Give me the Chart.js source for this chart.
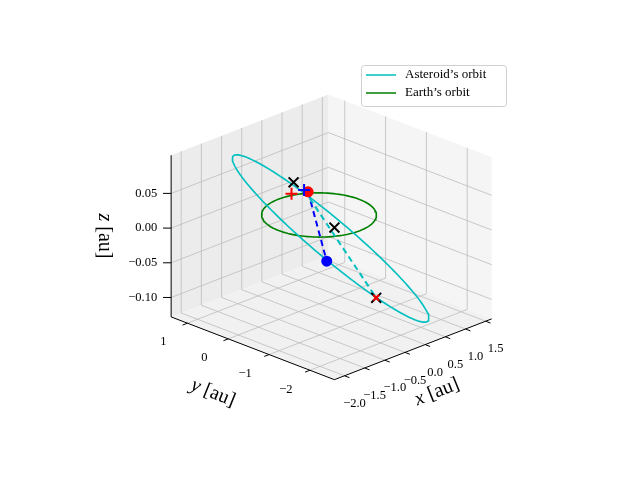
<!DOCTYPE html>
<html>
<head>
<meta charset="utf-8">
<script src="https://cdn.jsdelivr.net/npm/chart.js@4.4.0/dist/chart.umd.min.js"></script>
<style>body{margin:0;background:#fff}</style>
</head>
<body>
<canvas id="c" width="640" height="480"></canvas>
<script>
// Пределы осей и подписи делений
const xLim = [-2.25, 1.65];
const yLim = [-2.6, 1.4];
const zLim = [-0.128, 0.105];
const xTicks = [-2.0, -1.5, -1.0, -0.5, 0.0, 0.5, 1.0, 1.5];
const yTicks = [-2, -1, 0, 1];
const zTicks = [-0.10, -0.05, 0.00, 0.05];

// Орбиты: центр и полуоси (а.е.)
const earthRadius = 1.0;
const asteroidCenter = [-0.39, -0.67, -0.01];
const asteroidU = [0.9, -1.5, -0.105];
const asteroidV = [1.225, 0.91, -0.027];
const orbitAngles = Array.from({length: 121}, (_, i) => i * 3);

// Точки (x, y, z)
const earthPos = [[0.61, 0.87, 0]];
const earthPlus = [[0.34, 1.01, 0]];
const asteroidPos = [[-1.57, -1.74, 0.008]];
const asteroidPlus = [[0.553, 0.912, 0.003]];
const blackCross = [[0.29, 0.91, 0.02], [0.456, 0.073, -0.03], [-0.93, -2.32, -0.046]];
const redCross = [[-0.93, -2.32, -0.046]];

// Простая проекция 3D -> экран
function proj(p) {
    const [x, y, z] = p;
    return {x: 319 + 41.5 * x - 42 * y, y: 214 - 16.2 * x - 16.3 * y - 721 * z};
}
const rad = Math.PI / 180;
const earthOrbit = orbitAngles.map(a => proj([earthRadius * Math.cos(a * rad), earthRadius * Math.sin(a * rad), 0]));
const asteroidOrbit = orbitAngles.map(a => proj([0, 1, 2].map(k =>
    asteroidCenter[k] + asteroidU[k] * Math.cos(a * rad) + asteroidV[k] * Math.sin(a * rad))));

const serif = '"Liberation Serif", "DejaVu Serif", serif';

// Оси, панели и сетка
const boxPlugin = {
    id: 'box',
    beforeDatasetsDraw(chart) {
        const ctx = chart.ctx;
        const sx = chart.scales.x, sy = chart.scales.y;
        const P = p => { const q = proj(p); return [sx.getPixelForValue(q.x), sy.getPixelForValue(q.y)]; };
        const poly = (pts, fill) => {
            ctx.beginPath();
            pts.forEach((p, i) => { const q = P(p); i ? ctx.lineTo(q[0], q[1]) : ctx.moveTo(q[0], q[1]); });
            ctx.closePath(); ctx.fillStyle = fill; ctx.fill();
        };
        const line = (a, b, col, w) => {
            const p = P(a), q = P(b);
            ctx.beginPath(); ctx.moveTo(p[0], p[1]); ctx.lineTo(q[0], q[1]);
            ctx.strokeStyle = col; ctx.lineWidth = w; ctx.stroke();
        };
        const [x0, x1] = xLim, [y0, y1] = yLim, [z0, z1] = zLim;
        ctx.save();
        poly([[x0, y1, z0], [x1, y1, z0], [x1, y1, z1], [x0, y1, z1]], '#ececec');
        poly([[x1, y0, z0], [x1, y1, z0], [x1, y1, z1], [x1, y0, z1]], '#f5f5f5');
        poly([[x0, y0, z0], [x1, y0, z0], [x1, y1, z0], [x0, y1, z0]], '#f1f1f1');
        const g = '#bcbcbc';
        xTicks.forEach(t => { line([t, y0, z0], [t, y1, z0], g, 0.8); line([t, y1, z0], [t, y1, z1], g, 0.8); });
        yTicks.forEach(t => { line([x0, t, z0], [x1, t, z0], g, 0.8); line([x1, t, z0], [x1, t, z1], g, 0.8); });
        zTicks.forEach(t => { line([x0, y1, t], [x1, y1, t], g, 0.8); line([x1, y1, t], [x1, y0, t], g, 0.8); });
        line([x0, y0, z0], [x1, y0, z0], '#000', 1);
        line([x0, y0, z0], [x0, y1, z0], '#000', 1);
        line([x0, y1, z0], [x0, y1, z1], '#000', 1);
        ctx.fillStyle = '#000';
        ctx.font = '12.5px ' + serif;
        ctx.textBaseline = 'middle';
        ctx.textAlign = 'center';
        const fmt = v => v.toFixed(1).replace('-', '\u2212');
        xTicks.forEach(t => {
            line([t, y0, z0], [t, y0 - 0.12, z0], '#000', 1);
            const p = P([t, y0, z0]);
            ctx.fillText(fmt(Math.abs(t) < 1e-9 ? 0 : t), p[0] + 10, p[1] + 28);
        });
        yTicks.forEach(t => {
            line([x0, t, z0], [x0 - 0.12, t, z0], '#000', 1);
            const p = P([x0, t, z0]);
            ctx.fillText(String(t).replace('-', '\u2212'), p[0] - 24, p[1] + 19);
        });
        ctx.textAlign = 'right';
        zTicks.forEach(t => {
            line([x0, y1, t], [x0 - 0.1, y1 + 0.1, t], '#000', 1);
            const p = P([x0, y1, t]);
            ctx.fillText((Math.abs(t) < 1e-9 ? 0 : t).toFixed(2).replace('-', '\u2212'), p[0] - 14, p[1]);
        });
        // Подписи осей
        const label = (txt, x, y, ang) => {
            ctx.save(); ctx.translate(x, y); ctx.rotate(ang * rad);
            ctx.textAlign = 'left';
            ctx.font = 'italic 20px ' + serif;
            const w1 = ctx.measureText(txt).width;
            ctx.font = '20px ' + serif;
            const w2 = ctx.measureText(' [au]').width;
            const st = -(w1 + w2) / 2;
            ctx.font = 'italic 20px ' + serif; ctx.fillText(txt, st, 0);
            ctx.font = '20px ' + serif; ctx.fillText(' [au]', st + w1, 0);
            ctx.restore();
        };
        label('x', 437, 392, -22);
        label('y', 213, 393, 22);
        label('z', 104, 236, 90);
        // Легенда
        ctx.fillStyle = 'rgba(255,255,255,0.8)';
        ctx.strokeStyle = '#d0d0d0'; ctx.lineWidth = 1;
        ctx.beginPath(); ctx.roundRect(361.5, 65.5, 145, 41, 3); ctx.fill(); ctx.stroke();
        ctx.font = '13px ' + serif; ctx.textAlign = 'left'; ctx.fillStyle = '#000';
        [['#00bfbf', 'Asteroid\u2019s orbit', 75], ['#008000', 'Earth\u2019s orbit', 93]].forEach(([c, t, yy]) => {
            ctx.beginPath(); ctx.moveTo(366, yy); ctx.lineTo(396, yy);
            ctx.strokeStyle = c; ctx.lineWidth = 1.5; ctx.stroke();
            ctx.fillText(t, 405, yy);
        });
        ctx.restore();
    }
};

const pts = arr => arr.map(proj);
const marker = (data, style, color, r) => ({
    data: pts(data), showLine: false, pointStyle: style, pointRadius: r,
    pointBorderColor: color, pointBackgroundColor: color, pointBorderWidth: 2
});

// Chart.js рисует наборы с конца, поэтому верхние слои идут первыми
new Chart(document.getElementById('c'), {
    type: 'scatter',
    data: {
        datasets: [
            marker(redCross, 'crossRot', '#ff0000', 4),
            marker(blackCross, 'crossRot', '#000000', 7),
            marker(asteroidPlus, 'cross', '#0000ff', 6),
            marker(earthPlus, 'cross', '#ff0000', 6),
            marker(asteroidPos, 'circle', '#0000ff', 4.5),
            marker(earthPos, 'circle', '#ff0000', 4.5),
            {data: pts([asteroidPlus[0], redCross[0]]), showLine: true, borderColor: '#00bfbf', borderWidth: 2, borderDash: [6, 4], pointRadius: 0},
            {data: pts([earthPos[0], asteroidPos[0]]), showLine: true, borderColor: '#0000ff', borderWidth: 2, borderDash: [6, 4], pointRadius: 0},
            {data: asteroidOrbit, showLine: true, borderColor: '#00bfbf', borderWidth: 1.6, pointRadius: 0},
            {data: earthOrbit, showLine: true, borderColor: '#008000', borderWidth: 1.6, pointRadius: 0}
        ]
    },
    options: {
        responsive: false, animation: false, devicePixelRatio: 1,
        layout: {padding: 0},
        plugins: {legend: {display: false}, tooltip: {enabled: false}},
        scales: {
            x: {type: 'linear', min: 0, max: 640, display: false},
            y: {type: 'linear', min: 0, max: 480, reverse: true, display: false}
        }
    },
    plugins: [boxPlugin]
});
</script>
</body>
</html>
